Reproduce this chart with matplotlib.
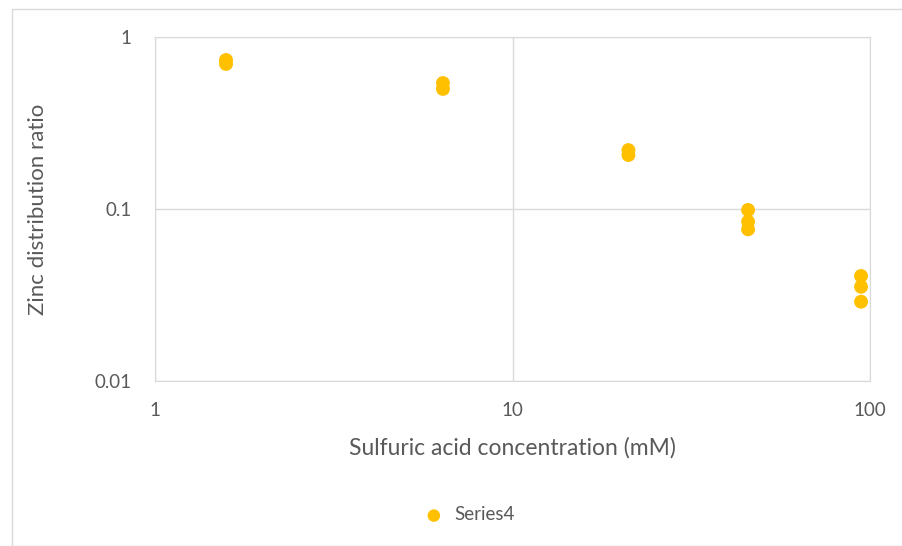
import matplotlib.pyplot as plt
from matplotlib.patches import Rectangle
from matplotlib.ticker import FixedLocator, NullLocator

# sulfuric acid concentration (mM) and zinc distribution ratio
conc = [1.58, 1.58, 6.39, 6.39, 21.1, 21.1, 45.6, 45.6, 45.6, 94.4, 94.4, 94.4]
ratio = [0.735, 0.697, 0.540, 0.499, 0.220, 0.206, 0.0987, 0.0844, 0.0762,
         0.0408, 0.0353, 0.0289]

x_ticks = [1, 10, 100]
x_labels = ['1', '10', '100']
y_ticks = [0.01, 0.1, 1]
y_labels = ['0.01', '0.1', '1']

plt.rcParams['font.family'] = ['Lato', 'DejaVu Sans']
txt = '#595959'
grid = '#D9D9D9'

fig = plt.figure(figsize=(9.02, 5.46), dpi=100)
fig.patches.append(Rectangle((12 / 902, 0), 1, 1 - 9 / 546, transform=fig.transFigure,
                             fill=False, edgecolor=grid, linewidth=1))
ax = fig.add_axes([155 / 902, 1 - 381 / 546, 715 / 902, 344 / 546])

ax.scatter(conc, ratio, s=100, color='#FFC000', edgecolors='none', zorder=3, label='Series4')

ax.set_xscale('log')
ax.set_yscale('log')
ax.set_xlim(1, 100)
ax.set_ylim(0.01, 1)
ax.xaxis.set_major_locator(FixedLocator(x_ticks))
ax.yaxis.set_major_locator(FixedLocator(y_ticks))
ax.xaxis.set_minor_locator(NullLocator())
ax.yaxis.set_minor_locator(NullLocator())
ax.set_xticklabels(x_labels)
ax.set_yticklabels(y_labels)
ax.tick_params(length=0, labelsize=13.5, colors=txt)
ax.tick_params(axis='x', pad=15)
ax.tick_params(axis='y', pad=17)
ax.grid(True, color=grid, linewidth=1)
for s in ax.spines.values():
    s.set_color(grid)

ax.set_xlabel('Sulfuric acid concentration (mM)', fontsize=16.5, color=txt, labelpad=13)
ax.set_ylabel('Zinc distribution ratio', fontsize=16, color=txt, labelpad=33)

fig.legend(loc='center', bbox_to_anchor=(465 / 902, 1 - 515 / 546), frameon=False,
           fontsize=13.5, labelcolor=txt, handletextpad=0.1, markerscale=0.9)

fig.savefig('out.png', dpi=100)
